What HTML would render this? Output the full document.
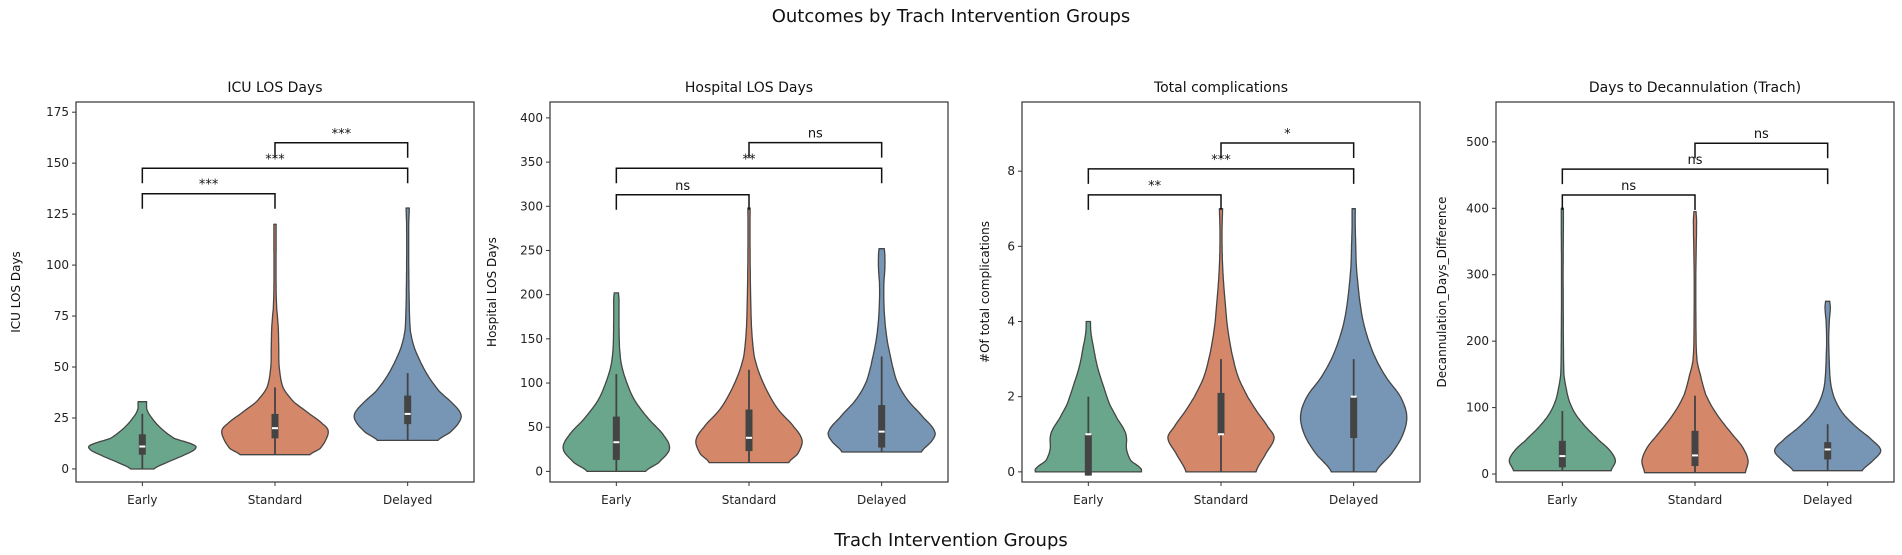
<!DOCTYPE html>
<html><head><meta charset="utf-8"><style>
html,body{margin:0;padding:0;background:#fff;}
svg{display:block;font-family:"DejaVu Sans","Liberation Sans",sans-serif;}
</style></head><body>
<svg id="chart" width="1902" height="555" viewBox="0 0 1902 555" xmlns="http://www.w3.org/2000/svg">
<text x="951" y="22" text-anchor="middle" font-size="18" fill="#111">Outcomes by Trach Intervention Groups</text>
<text x="951" y="546" text-anchor="middle" font-size="18" fill="#111">Trach Intervention Groups</text>
<g id="panels"></g>
</svg>
<script>
const categories = ["Early","Standard","Delayed"];
const colors = ["#6aa68b","#d5876a","#7795b4"];
const panelTitles = ["ICU LOS Days","Hospital LOS Days","Total complications","Days to Decannulation (Trach)"];
const yLabels = ["ICU LOS Days","Hospital LOS Days","#Of total complications","Decannulation_Days_Difference"];
const yTicks = [[0,25,50,75,100,125,150,175],[0,50,100,150,200,250,300,350,400],[0,2,4,6,8],[0,100,200,300,400,500]];
const yLims = [[-6.4,180],[-12,418],[-0.27,9.84],[-12,560]];
// violin density profiles: [value, relative half-width]
const icuEarly = [[0,0.22],[3,0.45],[7,0.8],[10,1.0],[12,0.95],[15,0.6],[20,0.35],[25,0.18],[29,0.09],[31,0.08],[33,0.08]];
const icuStandard = [[7,0.66],[10,0.85],[15,0.97],[19,1.0],[22,0.9],[27,0.65],[33,0.35],[40,0.15],[50,0.08],[60,0.07],[70,0.06],[80,0.03],[90,0.02],[110,0.02],[120,0.02]];
const icuDelayed = [[14,0.57],[18,0.8],[23,0.97],[27,1.0],[32,0.85],[38,0.6],[45,0.4],[52,0.25],[60,0.12],[68,0.05],[80,0.03],[100,0.02],[120,0.02],[128,0.03]];
const hospEarly = [[0,0.55],[10,0.8],[25,1.0],[40,0.9],[60,0.6],[80,0.35],[100,0.2],[120,0.1],[140,0.06],[170,0.05],[195,0.05],[202,0.04]];
const hospStandard = [[10,0.75],[20,0.92],[35,1.0],[50,0.85],[70,0.55],[90,0.35],[110,0.2],[130,0.1],[160,0.05],[200,0.03],[250,0.02],[298,0.02]];
const hospDelayed = [[22,0.75],[35,0.95],[45,1.0],[60,0.8],[80,0.5],[100,0.3],[120,0.2],[150,0.1],[180,0.05],[210,0.04],[230,0.06],[245,0.06],[252,0.05]];
const compEarly = [[0,1.0],[0.1,0.98],[0.3,0.8],[0.6,0.72],[0.9,0.72],[1.1,0.68],[1.4,0.55],[1.8,0.4],[2.3,0.28],[2.8,0.17],[3.3,0.1],[3.7,0.05],[4,0.04]];
const compStandard = [[0,0.66],[0.5,0.85],[0.9,1.0],[1.2,0.88],[1.6,0.68],[2,0.5],[2.5,0.33],[3,0.23],[3.5,0.16],[4,0.11],[4.5,0.08],[5,0.05],[5.5,0.03],[6,0.02],[6.5,0.02],[7,0.03]];
const compDelayed = [[0,0.42],[0.5,0.72],[1,0.93],[1.5,1.0],[2,0.88],[2.5,0.62],[3,0.42],[3.5,0.28],[4,0.18],[4.5,0.12],[5,0.08],[5.5,0.05],[6,0.04],[6.5,0.03],[7,0.03]];
const decEarly = [[5,0.92],[20,1.0],[35,0.9],[50,0.7],[70,0.45],[90,0.25],[110,0.13],[130,0.07],[150,0.03],[200,0.02],[300,0.015],[380,0.02],[400,0.02]];
const decStandard = [[2,0.95],[20,1.0],[40,0.9],[60,0.7],[80,0.5],[100,0.33],[120,0.2],[150,0.1],[170,0.04],[200,0.02],[300,0.015],[380,0.03],[395,0.02]];
const decDelayed = [[5,0.65],[20,0.85],[35,1.0],[50,0.85],[70,0.55],[90,0.3],[110,0.15],[130,0.07],[150,0.04],[200,0.02],[230,0.03],[250,0.05],[260,0.04]];
const violins = [[icuEarly,icuStandard,icuDelayed],[hospEarly,hospStandard,hospDelayed],[compEarly,compStandard,compDelayed],[decEarly,decStandard,decDelayed]];
// box stats: [q1, median, q3, whiskerLow, whiskerHigh]
const icuBox = [[7,11,17,0,27],[15,20,27,7,40],[22,27,36,14,47]];
const hospBox = [[13,33,62,0,110],[23,38,70,10,115],[27,45,75,22,130]];
const compBox = [[-0.1,1,1,-0.1,2],[1,1,2.1,0,3],[0.9,2,2,0,3]];
const decBox = [[10,27,50,5,95],[12,28,65,2,118],[22,37,48,5,75]];
const boxes = [icuBox,hospBox,compBox,decBox];
// significance brackets: [groupA, groupB, barValue, label]
const icuSig = [[0,1,135,"***"],[0,2,147.5,"***"],[1,2,160,"***"]];
const hospSig = [[0,1,313,"ns"],[0,2,343,"**"],[1,2,372,"ns"]];
const compSig = [[0,1,7.37,"**"],[0,2,8.06,"***"],[1,2,8.75,"*"]];
const decSig = [[0,1,420,"ns"],[0,2,459,"ns"],[1,2,498,"ns"]];
const sigs = [icuSig,hospSig,compSig,decSig];

const NS = "http://www.w3.org/2000/svg";
const axLeft = [76,550,1022,1496], axW = 398, axTop = 102, axBot = 482;
const ylabX = [20,496,989,1446];
function mk(tag, attrs, parent){const e=document.createElementNS(NS,tag);for(const k in attrs)e.setAttribute(k,attrs[k]);parent.appendChild(e);return e;}
// smooth a profile (catmull-rom on the half-width) into dense points
function smooth(prof){
  const out=[];
  for(let k=0;k<prof.length-1;k++){
    const p0=prof[Math.max(0,k-1)],p1=prof[k],p2=prof[k+1],p3=prof[Math.min(prof.length-1,k+2)];
    for(let s=0;s<8;s++){
      const t=s/8,t2=t*t,t3=t2*t;
      const f=(a,b,c,d)=>0.5*((2*b)+(-a+c)*t+(2*a-5*b+4*c-d)*t2+(-a+3*b-3*c+d)*t3);
      out.push([p1[0]+(p2[0]-p1[0])*t, Math.max(0.01,f(p0[1],p1[1],p2[1],p3[1]))]);
    }
  }
  out.push(prof[prof.length-1]);
  return out;
}
const root = document.getElementById("panels");
for(let p=0;p<4;p++){
  const g = mk("g",{},root);
  
  
  const L=axLeft[p], [y0,y1]=yLims[p];
  const ys = v => axBot - (v-y0)/(y1-y0)*(axBot-axTop);
  const unit = axW/3;
  const xs = i => L + (i+0.5)*unit;
  const t = mk("text",{x:L+axW/2,y:92,"text-anchor":"middle","font-size":14,fill:"#111"},g); t.textContent=panelTitles[p];
  
  
  const yl = mk("text",{x:ylabX[p],y:292,"text-anchor":"middle","font-size":12,fill:"#111",transform:`rotate(-90 ${ylabX[p]} 292)`},g); yl.textContent=yLabels[p];
  
  
  yTicks[p].forEach(v=>{
    const y=ys(v);
    mk("line",{x1:L-4,x2:L,y1:y,y2:y,stroke:"#333","stroke-width":1},g);
    const tt=mk("text",{x:L-7,y:y+4,"text-anchor":"end","font-size":12,fill:"#222"},g); tt.textContent=v;
    
    
  });
  categories.forEach((c,i)=>{
    const x=xs(i);
    mk("line",{x1:x,x2:x,y1:axBot,y2:axBot+4,stroke:"#333","stroke-width":1},g);
    const tt=mk("text",{x:x,y:504,"text-anchor":"middle","font-size":12,fill:"#222"},g); tt.textContent=c;
    
    
    const prof = smooth(violins[p][i]);
    const hw = 0.4*unit;
    let right = prof.map(([v,w])=>`${(x+w*hw).toFixed(1)},${ys(v).toFixed(1)}`);
    let left = prof.slice().reverse().map(([v,w])=>`${(x-w*hw).toFixed(1)},${ys(v).toFixed(1)}`);
    const vp = mk("polygon",{points:right.concat(left).join(" "),fill:colors[i],stroke:"#454545","stroke-width":1.3,"stroke-linejoin":"round"},g);
    
    
    const [q1,md,q3,wl,wh] = boxes[p][i];
    mk("line",{x1:x,x2:x,y1:ys(wl),y2:ys(wh),stroke:"#444","stroke-width":1.8},g);
    const bx = mk("rect",{x:x-3.5,y:ys(q3),width:7,height:Math.max(1,ys(q1)-ys(q3)),fill:"#444"},g);
    
    
    mk("line",{x1:x-3,x2:x+3,y1:ys(md),y2:ys(md),stroke:"#fff","stroke-width":2},g);
  });
  sigs[p].forEach(([a,b,v,lab])=>{
    const y=ys(v), xa=xs(a), xb=xs(b);
    const br = mk("polyline",{points:`${xa},${y+15} ${xa},${y} ${xb},${y} ${xb},${y+15}`,fill:"none",stroke:"#111","stroke-width":1.5},g);
    
    
    const lt = mk("text",{x:(xa+xb)/2,y:y-5,"text-anchor":"middle","font-size":13,fill:"#111"},g); lt.textContent=lab;
    
    
  });
  const fr = mk("rect",{x:L,y:axTop,width:axW,height:axBot-axTop,fill:"none",stroke:"#333","stroke-width":1.2},g);
  
  
}
</script>
</body></html>
